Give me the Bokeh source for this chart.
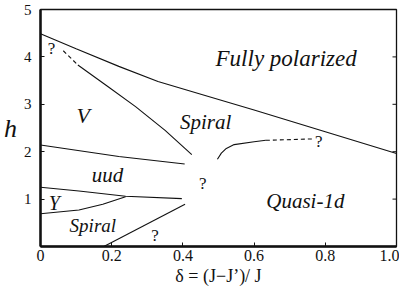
import math
from bokeh.plotting import figure
from bokeh.models import FixedTicker, Label
from bokeh.embed import file_html
from bokeh.resources import INLINE

# ---- data ----
sat_x = [0.0, 0.1, 0.22, 0.33, 0.46, 0.6, 0.8, 1.0]
sat_h = [4.49, 4.17, 3.80, 3.48, 3.19, 2.88, 2.42, 1.96]

vs_dash_x = [0.064, 0.105]
vs_dash_h = [4.13, 3.83]
vs_x = [0.105, 0.19, 0.267, 0.35, 0.425]
vs_h = [3.83, 3.37, 2.95, 2.45, 1.94]

vu_x = [0.0, 0.22, 0.405]
vu_h = [2.14, 1.90, 1.74]

uy_x = [0.0, 0.108, 0.239, 0.397]
uy_h = [1.25, 1.17, 1.06, 1.01]

ys_x = [0.0, 0.108, 0.175, 0.239]
ys_h = [0.69, 0.77, 0.89, 1.05]

sq_x = [0.178, 0.406]
sq_h = [0.0, 0.89]

q1_x = [0.497, 0.508, 0.522, 0.544, 0.6, 0.633]
q1_h = [1.84, 1.97, 2.07, 2.15, 2.21, 2.24]
q1_dash_x = [0.633, 0.767]
q1_dash_h = [2.24, 2.27]

phase_names = ["Fully polarized", "Spiral", "V", "uud", "Y", "Spiral", "Quasi-1d"]
phase_x = [0.69, 0.464, 0.12, 0.188, 0.039, 0.147, 0.744]
phase_h = [3.97, 2.63, 2.77, 1.50, 0.91, 0.45, 0.95]
phase_size = ["23px", "21px", "22px", "21px", "20px", "19px", "21px"]

q_x = [0.031, 0.456, 0.322, 0.782]
q_h = [4.17, 1.32, 0.24, 2.22]

x_ticks = [0, 0.2, 0.4, 0.6, 0.8, 1.0]
x_tick_labels = {0: "0", 0.2: "0.2", 0.4: "0.4", 0.6: "0.6", 0.8: "0.8", 1.0: "1.0"}
y_ticks = [1, 2, 3, 4, 5]
right_ticks = [1, 2, 3, 4]

FONT = "Liberation Serif, serif"
INK = "#111111"

p = figure(width=399, height=289, x_range=(0, 1), y_range=(0, 5),
           output_backend="svg", toolbar_location=None,
           min_border_left=36, min_border_right=3, min_border_top=9,
           min_border_bottom=43)
p.grid.visible = False
p.outline_line_color = INK
p.outline_line_width = 1.3
p.background_fill_color = "white"
p.border_fill_color = "white"

for ax in (p.xaxis[0], p.yaxis[0]):
    ax.axis_line_width = 2.5
    ax.axis_line_color = INK
    ax.major_tick_in = 4
    ax.major_tick_out = 0
    ax.major_tick_line_color = INK
    ax.minor_tick_line_color = None
    ax.major_label_text_font = FONT
    ax.major_label_text_color = INK

p.xaxis[0].ticker = FixedTicker(ticks=x_ticks)
p.xaxis[0].major_label_overrides = x_tick_labels
p.xaxis[0].major_label_text_font_size = "16px"
p.xaxis[0].major_label_standoff = 3
p.xaxis[0].axis_label = "δ = (J\u2212J’)/ J"
p.xaxis[0].axis_label_text_font = FONT
p.xaxis[0].axis_label_text_font_size = "18px"
p.xaxis[0].axis_label_text_font_style = "normal"
p.xaxis[0].axis_label_standoff = 2
p.xaxis[0].axis_label_text_color = INK

p.yaxis[0].ticker = FixedTicker(ticks=y_ticks)
p.yaxis[0].major_label_text_font_size = "15px"
p.yaxis[0].major_label_standoff = 9
p.yaxis[0].axis_label = "h"
p.yaxis[0].axis_label_orientation = "horizontal"
p.yaxis[0].axis_label_text_font = FONT
p.yaxis[0].axis_label_text_font_size = "26px"
p.yaxis[0].axis_label_text_font_style = "italic"
p.yaxis[0].axis_label_standoff = 4
p.yaxis[0].axis_label_text_color = INK

# inward ticks on the right edge
p.ray(x=[1.0] * len(right_ticks), y=right_ticks, length=4, length_units="screen",
      angle=math.pi, line_color=INK, line_width=1)

lw = 1.1
p.line(sat_x, sat_h, line_color=INK, line_width=lw)
p.line(vs_x, vs_h, line_color=INK, line_width=lw)
p.line(vs_dash_x, vs_dash_h, line_color=INK, line_width=lw, line_dash="4 3")
p.line(vu_x, vu_h, line_color=INK, line_width=lw)
p.line(uy_x, uy_h, line_color=INK, line_width=lw)
p.line(ys_x, ys_h, line_color=INK, line_width=lw)
p.line(sq_x, sq_h, line_color=INK, line_width=lw)
p.line(q1_x, q1_h, line_color=INK, line_width=lw)
p.line(q1_dash_x, q1_dash_h, line_color=INK, line_width=lw, line_dash="4 3")

for name, x, y, s in zip(phase_names, phase_x, phase_h, phase_size):
    p.add_layout(Label(x=x, y=y, text=name, text_font=FONT, text_font_size=s,
                       text_font_style="italic", text_align="center",
                       text_baseline="middle", text_color=INK))

for x, y in zip(q_x, q_h):
    p.add_layout(Label(x=x, y=y, text="?", text_font=FONT, text_font_size="17px",
                       text_align="center", text_baseline="middle", text_color=INK))

open("out.html", "w").write(file_html(p, INLINE))
